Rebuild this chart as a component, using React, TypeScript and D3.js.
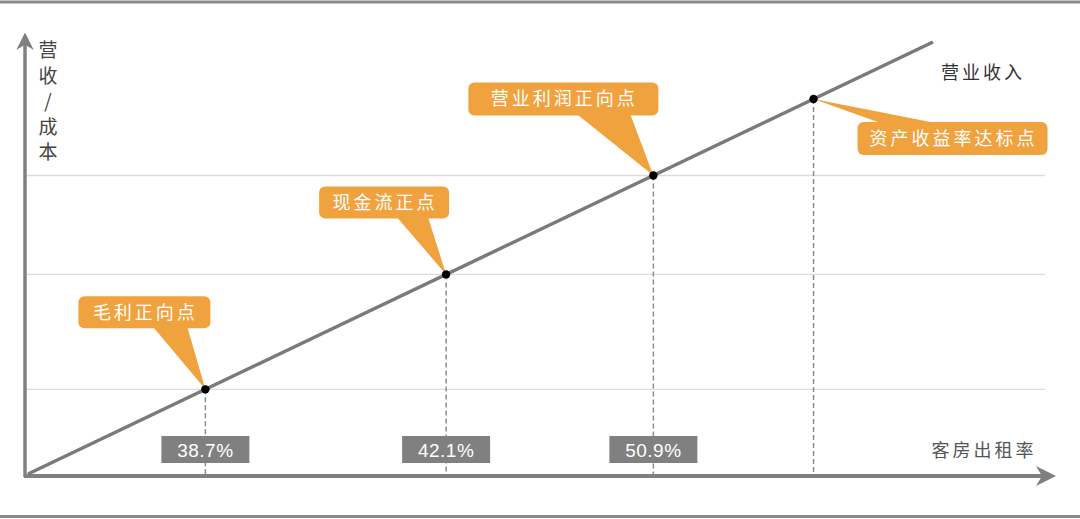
import React from 'react'
import * as d3 from 'd3'

// schematic positions along the x axis (0 = origin, 1 = end of the revenue line)
const pointX = [0.196, 0.462, 0.691, 0.868]
const pointNames = ['毛利正向点', '现金流正点', '营业利润正向点', '资产收益率达标点']
const rateLabels = ['38.7%', '42.1%', '50.9%']
const lineLabel = '营业收入'
const xTitle = '客房出租率'
const yTitle = ['营', '收', '/', '成', '本']

// callout layout relative to each point: box offset, size, pointer base
const calloutLayout = [
  { dx: -127, dy: -93, w: 132, h: 32, side: 'bottom', b0: 75, b1: 109 },
  { dx: -127, dy: -88, w: 130, h: 32, side: 'bottom', b0: 78, b1: 109 },
  { dx: -185, dy: -93, w: 190, h: 33, side: 'bottom', b0: 109, b1: 162 },
  { dx: 44, dy: 23, w: 190, h: 33, side: 'top', b0: 23, b1: 78 },
]

const W = 1080
const H = 519
const ORANGE = '#F0A23E'
const GRAY = '#808080'
const FONT = '"Noto Sans CJK SC", "Noto Sans", sans-serif'

export default function App() {
  const x = d3.scaleLinear().domain([0, 1]).range([28, 933])
  const y = d3.scaleLinear().domain([0, 1]).range([474, 42])
  const axisX = 25
  const axisY = 476

  const line = d3.line<number>().x(d => x(d)).y(d => y(d))
  const gridVals = pointX.slice(0, 3)

  return (
    <svg width={W} height={H} style={{ position: 'absolute', left: 0, top: 0, background: '#fff' }} fontFamily={FONT}>
      <defs>
        <marker id="arr" viewBox="0 0 10 10" refX="8" refY="5" markerWidth="5" markerHeight="5" orient="auto">
          <path d="M0,0 L10,5 L0,10 L3,5 Z" fill={GRAY} />
        </marker>
      </defs>
      <rect x={0} y={0} width={W} height={H} fill="#fff" />
      {/* frame lines */}
      <line x1={0} x2={W} y1={2} y2={2} stroke="#8a8a8a" strokeWidth={3} />
      <line x1={0} x2={W} y1={516.5} y2={516.5} stroke="#8a8a8a" strokeWidth={3} />

      {/* grid */}
      {gridVals.map((v, i) => (
        <line key={i} x1={axisX} x2={1045} y1={y(v)} y2={y(v)} stroke="#dcdcdc" strokeWidth={1.3} />
      ))}

      {/* dashed drop lines */}
      {pointX.map((v, i) => (
        <line key={i} x1={x(v)} x2={x(v)} y1={y(v)} y2={axisY} stroke="#8c8c8c" strokeWidth={1.5} strokeDasharray="5,3" />
      ))}

      {/* rate boxes */}
      {rateLabels.map((t, i) => (
        <g key={i}>
          <rect x={x(pointX[i]) - 44} y={436} width={88} height={27} fill={GRAY} />
          <text x={x(pointX[i])} y={457} textAnchor="middle" fill="#fff" fontSize={19} letterSpacing={0.5} fontFamily='"Liberation Sans", Arial, sans-serif'>{t}</text>
        </g>
      ))}

      {/* axes */}
      <line x1={axisX} x2={axisX} y1={axisY + 1} y2={36} stroke={GRAY} strokeWidth={3.5} markerEnd="url(#arr)" />
      <line x1={axisX - 1} x2={1052} y1={axisY} y2={axisY} stroke={GRAY} strokeWidth={4} markerEnd="url(#arr)" />

      {/* revenue line */}
      <path d={line([0, 1]) || ''} fill="none" stroke="#7a7a7a" strokeWidth={3.5} />

      {/* callouts */}
      {pointX.map((v, i) => {
        const px = x(v)
        const py = y(v)
        const c = calloutLayout[i]
        const bx = px + c.dx
        const by = py + c.dy
        const baseY = c.side === 'bottom' ? by + c.h - 1 : by + 1
        const tri = `M${bx + c.b0},${baseY} L${px},${py} L${bx + c.b1},${baseY} Z`
        return (
          <g key={i}>
            <path d={tri} fill={ORANGE} />
            <rect x={bx} y={by} width={c.w} height={c.h} rx={6} fill={ORANGE} />
            <text x={bx + c.w / 2 + 1} y={by + c.h / 2 + 6.5} textAnchor="middle" fill="#fff" fontSize={18} letterSpacing={3}>{pointNames[i]}</text>
          </g>
        )
      })}

      {/* points */}
      {pointX.map((v, i) => (
        <circle key={i} cx={x(v)} cy={y(v)} r={4.2} fill="#000" />
      ))}

      {/* titles */}
      {yTitle.map((ch, i) => (
        <text key={i} x={48} y={57 + i * 25.5} textAnchor="middle" fill="#444" fontSize={19}>{ch}</text>
      ))}
      <text x={983} y={79} textAnchor="middle" fill="#333" fontSize={18} letterSpacing={3}>{lineLabel}</text>
      <text x={984} y={457} textAnchor="middle" fill="#555" fontSize={18} letterSpacing={3}>{xTitle}</text>
    </svg>
  )
}
